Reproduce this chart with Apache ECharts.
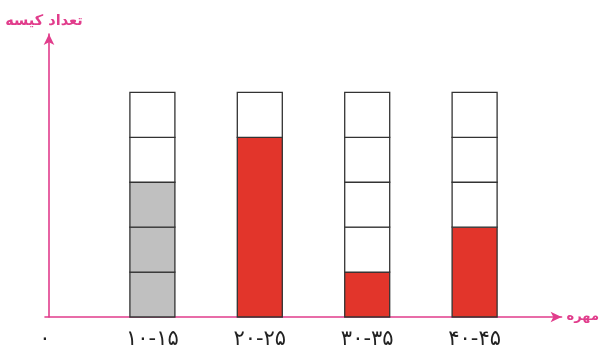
<!DOCTYPE html>
<html>
<head>
<meta charset="utf-8">
<script src="https://cdn.jsdelivr.net/npm/echarts@6/dist/echarts.min.js"></script>
<style>html,body{margin:0;padding:0;background:#fff;}#c{width:602px;height:351px;}</style>
</head>
<body>
<div id="c"></div>
<script>
const categories = ['۱۰-۱۵', '۲۰-۲۵', '۳۰-۳۵', '۴۰-۴۵'];
const originLabel = '۰';
const filledCells = [3, 4, 1, 2];
const totalCells = [5, 5, 5, 5];
const yAxisName = 'تعداد کیسه';
const xAxisName = 'مهره';

const PINK = '#e13d8c';
const LINE = '#333333';
const GRAY = '#c0c0c0';
const RED = '#e2352b';

const chart = echarts.init(document.getElementById('c'), null, {renderer: 'canvas'});

const data = categories.map((c, i) => [i + 1, filledCells[i], totalCells[i], i]);

function renderItem(params, api) {
  const x = api.value(0);
  const filled = api.value(1);
  const total = api.value(2);
  const idx = api.value(3);
  const w = 45;
  const children = [];
  const style = (fill) => ({fill: fill, stroke: LINE, lineWidth: 1.3});
  const rectBetween = (a, b, fill) => {
    const p0 = api.coord([x, a]);
    const p1 = api.coord([x, b]);
    return {type: 'rect', shape: {x: p0[0] - w / 2, y: p1[1], width: w, height: p0[1] - p1[1]}, style: style(fill)};
  };
  if (idx === 0) {
    for (let k = 0; k < filled; k++) children.push(rectBetween(k, k + 1, GRAY));
  } else if (filled > 0) {
    children.push(rectBetween(0, filled, RED));
  }
  for (let k = filled; k < total; k++) children.push(rectBetween(k, k + 1, '#ffffff'));
  return {type: 'group', children: children};
}

chart.setOption({
  animation: false,
  backgroundColor: '#ffffff',
  grid: {left: 45, right: 39, top: 34, bottom: 34, containLabel: false},
  xAxis: {
    type: 'value',
    min: 0,
    max: 4.81,
    interval: 1,
    splitLine: {show: false},
    axisTick: {show: false},
    axisLine: {show: true, symbol: ['none', 'arrow'], symbolSize: [8, 11], lineStyle: {color: PINK, width: 1.6}},
    axisLabel: {
      margin: 12,
      fontSize: 21,
      fontFamily: 'DejaVu Sans',
      color: '#222',
      showMaxLabel: false,
      formatter: function (v) {
        if (Math.abs(v) < 1e-9) return originLabel;
        const i = Math.round(v) - 1;
        if (Math.abs(v - Math.round(v)) < 1e-9 && i >= 0 && i < categories.length) return categories[i];
        return '';
      }
    },
    name: xAxisName,
    nameLocation: 'end',
    nameGap: 5,
    nameTextStyle: {color: PINK, fontSize: 13, fontWeight: 'bold', fontFamily: 'DejaVu Sans', verticalAlign: 'middle', align: 'left', padding: [0, 0, 3, 0]}
  },
  yAxis: {
    type: 'value',
    min: 0,
    max: 6.3,
    offset: -4,
    splitLine: {show: false},
    axisTick: {show: false},
    axisLabel: {show: false},
    axisLine: {show: true, onZero: false, symbol: ['none', 'arrow'], symbolSize: [8, 11], lineStyle: {color: PINK, width: 1.6}},
    name: yAxisName,
    nameLocation: 'end',
    nameGap: 5,
    nameTextStyle: {color: PINK, fontSize: 14.5, fontWeight: 'bold', fontFamily: 'DejaVu Sans', align: 'center', padding: [0, 10, 0, 0]}
  },
  series: [{
    type: 'custom',
    renderItem: renderItem,
    data: data,
    encode: {x: 0, y: [1, 2]},
    clip: false
  }]
});
</script>
</body>
</html>
